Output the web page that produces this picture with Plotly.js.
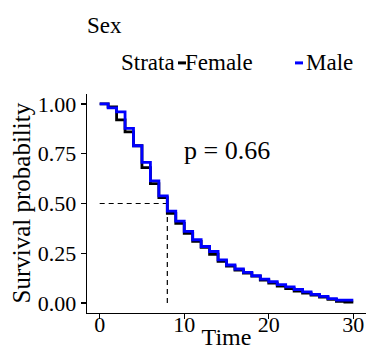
<!DOCTYPE html>
<html>
<head>
<meta charset="utf-8">
<script src="https://cdn.plot.ly/plotly-3.0.1.min.js"></script>
<style>html,body{margin:0;padding:0;background:#fff;}#chart{width:366px;height:350px;}</style>
</head>
<body>
<div id="chart"></div>
<script>
// ---- data ----
var time = [0,1,2,3,4,5,6,7,8,9,10,11,12,13,14,15,16,17,18,19,20,21,22,23,24,25,26,27,28,29,30];
var survFemale = [1.00,0.985,0.92,0.86,0.79,0.68,0.60,0.53,0.45,0.40,0.35,0.31,0.28,0.245,0.21,0.185,0.165,0.15,0.135,0.115,0.10,0.085,0.072,0.06,0.05,0.04,0.03,0.018,0.008,0.005,0.005];
var survMale = [1.00,0.98,0.96,0.877,0.79,0.707,0.614,0.538,0.462,0.411,0.36,0.318,0.284,0.259,0.217,0.191,0.171,0.154,0.137,0.12,0.107,0.093,0.081,0.068,0.056,0.044,0.034,0.022,0.015,0.015,0.015];
var strataNames = ["Female","Male"];
var medianTime = 8;
var medianSurv = 0.5;
var pText = "p = 0.66";
var xTicks = [0,10,20,30];
var yTicks = [0,0.25,0.5,0.75,1];

var FONT = "Liberation Serif";
var cFemale = "#000000", cMale = "#0000FF";

var traces = [
  {x:[0,medianTime], y:[medianSurv,medianSurv], mode:"lines", line:{color:"#000",width:1.2,dash:"5px,4px"}, showlegend:false, hoverinfo:"skip"},
  {x:[medianTime,medianTime], y:[0,medianSurv], mode:"lines", line:{color:"#000",width:1.2,dash:"5px,4px"}, showlegend:false, hoverinfo:"skip"},
  {x:time, y:survFemale, name:strataNames[0], mode:"lines", line:{color:cFemale,width:2.8,shape:"hv"}, showlegend:false},
  {x:time, y:survMale, name:strataNames[1], mode:"lines", line:{color:cMale,width:2.8,shape:"hv"}, showlegend:false}
];

function px2fx(p){ return (p-87)/279; }
var legY = 1.142;

var layout = {
  width:366, height:350,
  margin:{l:87, r:0, t:94, b:37},
  paper_bgcolor:"#fff", plot_bgcolor:"#fff",
  font:{family:FONT, size:22, color:"#000"},
  title:{text:"Sex", font:{family:FONT,size:23,color:"#000"}, xref:"paper", x:0, xanchor:"left", yref:"container", y:1-25/350, yanchor:"middle"},
  xaxis:{range:[-1.5,31.5], tickvals:xTicks, ticktext:xTicks.map(String), showgrid:false, zeroline:false,
         showline:true, linecolor:"#000", linewidth:1.3, ticks:"outside", ticklen:5, tickcolor:"#000", tickwidth:1.3,
         ticklabelstandoff:-14,
         tickfont:{family:FONT,size:22,color:"#000"},
         title:{text:"Time", font:{family:FONT,size:24,color:"#000"}, standoff:12}},
  yaxis:{range:[-0.05,1.05], tickvals:yTicks, ticktext:yTicks.map(function(v){return v.toFixed(2);}), showgrid:false, zeroline:false,
         showline:true, linecolor:"#000", linewidth:1.3, ticks:"outside", ticklen:5, tickcolor:"#000", tickwidth:1.3,
         tickfont:{family:FONT,size:22,color:"#000"}},
  showlegend:false,
  annotations:[
    {x:px2fx(21), y:0.5, xref:"paper", yref:"paper", text:"Survival probability", textangle:-90, showarrow:false, font:{family:FONT,size:25,color:"#000"}, xanchor:"center", yanchor:"middle"},
    {x:15, y:0.765, xref:"x", yref:"y", text:pText, showarrow:false, font:{family:FONT,size:26,color:"#000"}, xanchor:"center", yanchor:"middle"},
    {x:px2fx(119), y:legY, xref:"paper", yref:"paper", text:"Strata", showarrow:false, xanchor:"left", yanchor:"middle", font:{family:FONT,size:23,color:"#000"}},
    {x:px2fx(183), y:legY, xref:"paper", yref:"paper", text:strataNames[0], showarrow:false, xanchor:"left", yanchor:"middle", font:{family:FONT,size:23,color:"#000"}},
    {x:px2fx(304), y:legY, xref:"paper", yref:"paper", text:strataNames[1], showarrow:false, xanchor:"left", yanchor:"middle", font:{family:FONT,size:23,color:"#000"}}
  ],
  shapes:[
    {type:"line", xref:"paper", yref:"paper", x0:px2fx(178), x1:px2fx(186), y0:legY, y1:legY, line:{color:cFemale,width:3}},
    {type:"line", xref:"paper", yref:"paper", x0:px2fx(295), x1:px2fx(303), y0:legY, y1:legY, line:{color:cMale,width:3}}
  ]
};

Plotly.newPlot("chart", traces, layout, {displayModeBar:false, staticPlot:true});
</script>
</body>
</html>
